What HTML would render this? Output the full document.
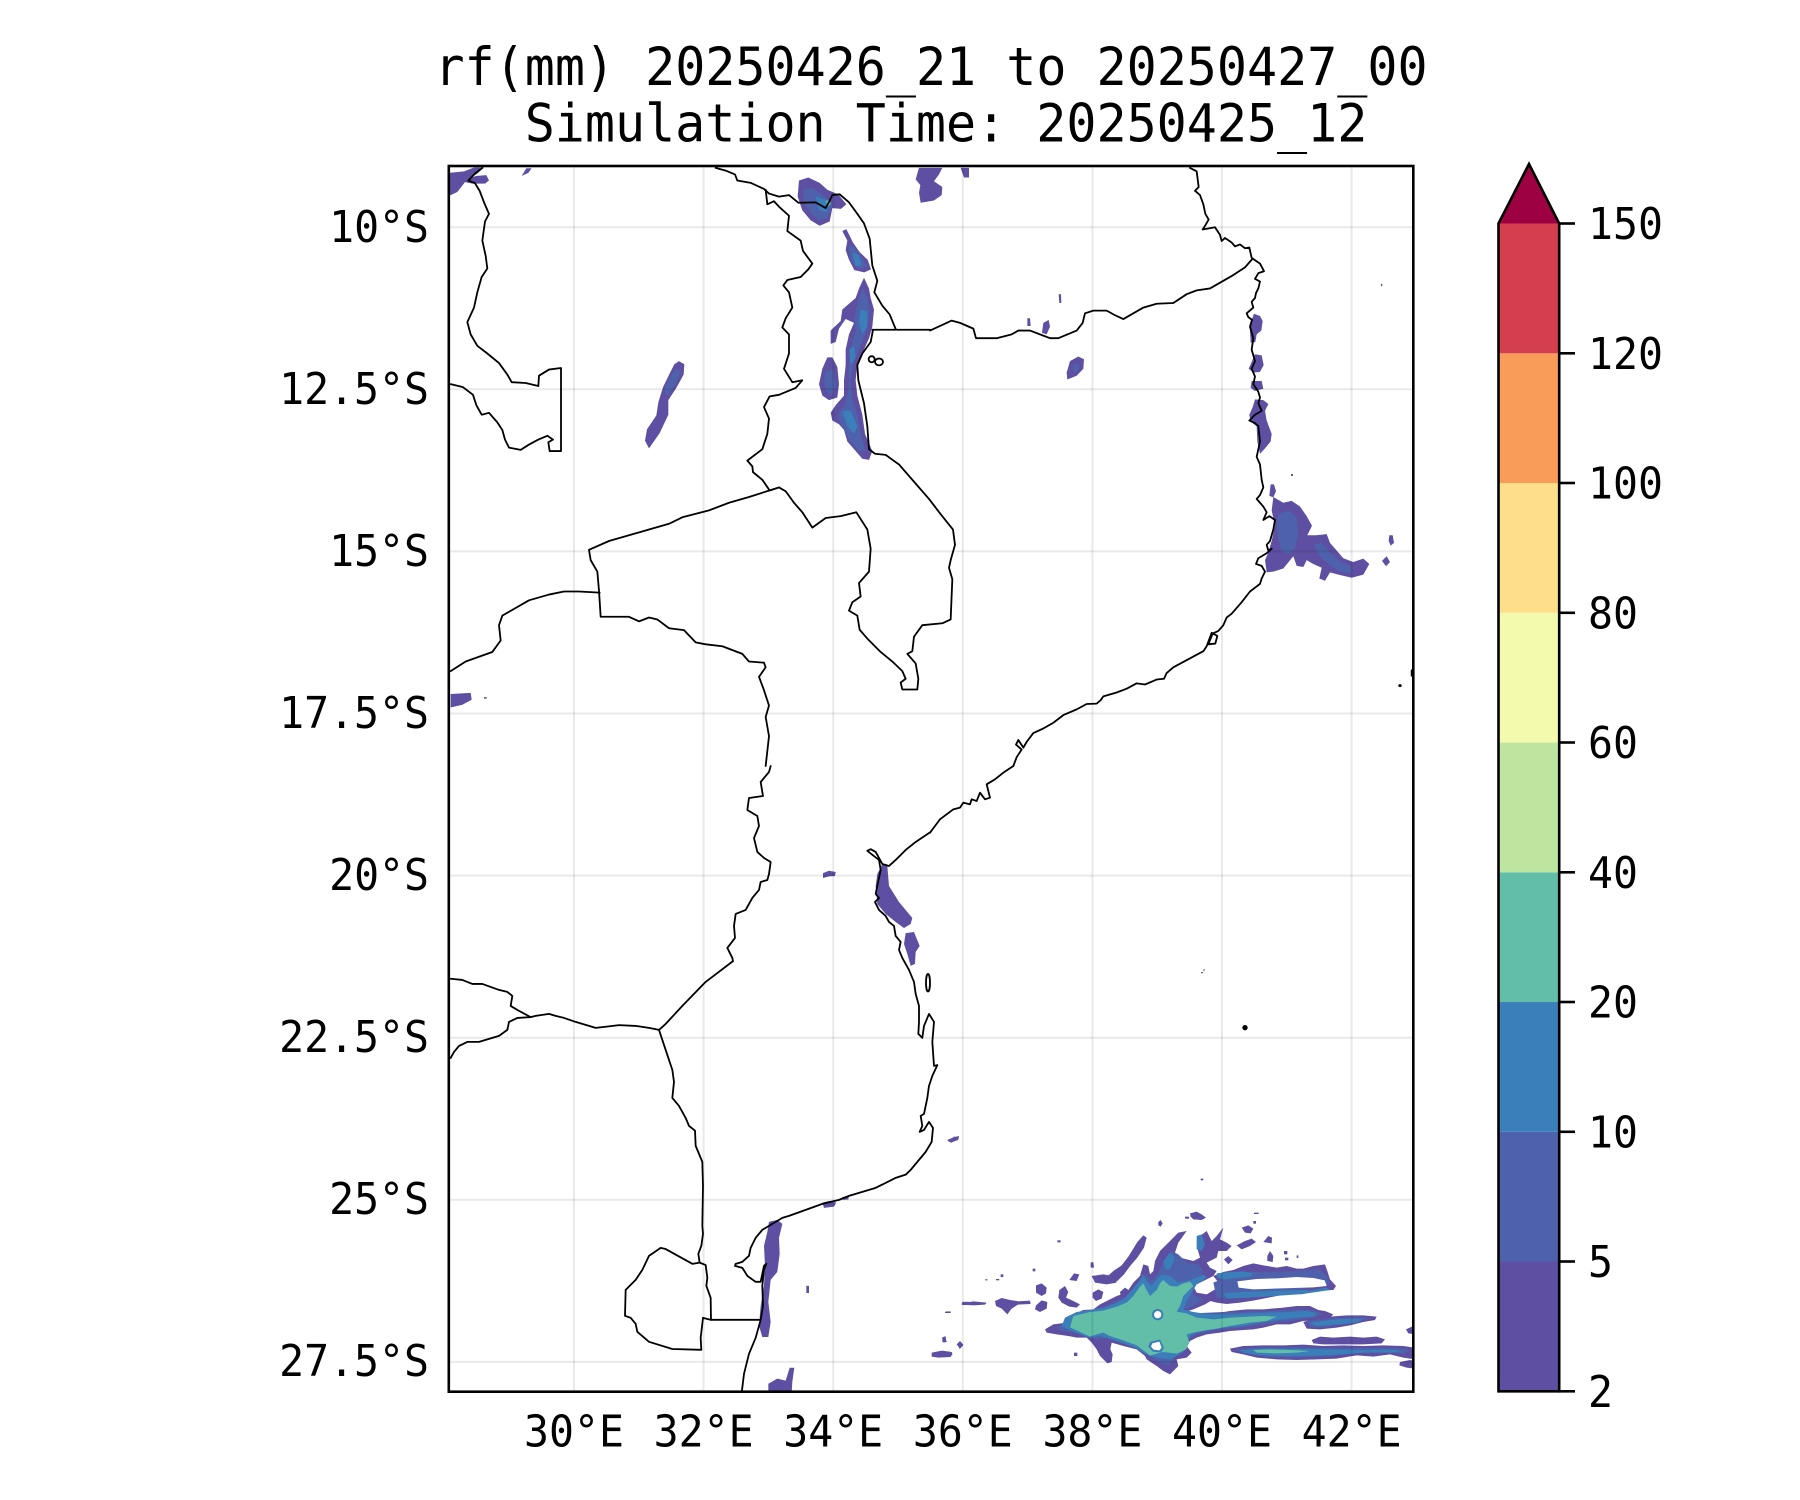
<!DOCTYPE html>
<html><head><meta charset="utf-8"><style>
html,body{margin:0;padding:0;background:#fff;}
svg{display:block;}
text{font-family:"DejaVu Sans Mono","Liberation Mono",monospace;fill:#000;}
.ln{fill:none;stroke:#000;stroke-width:1.8;stroke-linejoin:round;stroke-linecap:round;vector-effect:non-scaling-stroke;}
.c1{fill:#5e4fa2;}
.c2{fill:#4d62ab;}
.c3{fill:#3a7fb9;}
.c4{fill:#62bea7;}
.wh{fill:#fff;}
</style></head><body>
<svg width="1800" height="1500" viewBox="0 0 1800 1500" xmlns="http://www.w3.org/2000/svg">
<defs><clipPath id="mp"><rect x="448.8" y="166" width="964.5" height="1225.7"/></clipPath></defs>
<rect x="0" y="0" width="1800" height="1500" fill="#fff"/>

<g clip-path="url(#mp)">
<!-- ZOOM 5 region -->
<g transform="translate(449,166) scale(0.33333,0.38265)">
<path class="c1" d="M0,18 L45,14 L75,4 L105,4 L85,20 L62,32 L80,26 L112,24 L120,38 L108,46 L70,46 L48,42 L25,68 L5,76 L0,76 Z"/>
<path class="c1" d="M218,26 L232,6 L248,6 L238,18 Z"/>
<path class="c1" d="M690,510 L706,518 L704,545 L682,580 L658,612 L658,650 L632,698 L600,738 L588,718 L594,688 L622,652 L628,618 L642,578 L660,546 L676,518 Z"/>
<path class="c2" d="M680,530 L695,535 L680,570 L655,600 L645,585 L665,550 Z"/>
<path class="c1" d="M1050,38 L1078,30 L1112,44 L1135,62 L1168,74 L1192,100 L1176,112 L1150,110 L1142,145 L1112,156 L1085,142 L1060,116 L1046,80 Z"/>
<path class="c2" d="M1062,60 L1092,58 L1130,82 L1150,98 L1136,135 L1110,142 L1085,122 L1066,96 Z"/>
<path class="c3" d="M1100,80 L1130,88 L1145,100 L1130,120 L1110,115 Z"/>
<path class="c4" d="M1130,92 L1142,88 L1145,100 L1136,105 Z"/>
<path class="c1" d="M1180,170 L1192,165 L1212,200 L1232,225 L1256,245 L1266,270 L1246,278 L1216,272 L1200,245 L1190,220 L1195,195 Z"/>
<path class="c2" d="M1198,205 L1215,212 L1240,240 L1255,265 L1225,268 L1205,245 Z"/>
<path class="c3" d="M1210,225 L1228,232 L1238,258 L1220,262 Z"/>
<path class="c1" d="M1245,292 L1260,320 L1265,345 L1275,375 L1270,420 L1260,450 L1245,480 L1225,520 L1220,560 L1225,600 L1240,650 L1248,700 L1270,745 L1260,768 L1240,765 L1215,740 L1195,720 L1185,690 L1170,675 L1150,665 L1145,645 L1160,625 L1185,600 L1185,560 L1190,520 L1190,480 L1200,440 L1215,410 L1190,400 L1170,425 L1160,460 L1145,465 L1145,430 L1175,405 L1180,375 L1200,360 L1220,345 L1230,320 Z"/>
<path class="c2" d="M1240,320 L1255,340 L1262,380 L1255,420 L1240,460 L1215,510 L1205,560 L1210,610 L1225,650 L1235,700 L1250,745 L1230,745 L1200,715 L1175,672 L1165,650 L1190,620 L1200,570 L1200,520 L1205,475 L1220,430 L1215,400 L1225,360 Z"/>
<path class="c3" d="M1235,375 L1255,380 L1255,420 L1240,440 L1230,410 Z M1200,480 L1215,470 L1220,500 L1205,520 Z M1180,640 L1205,640 L1225,680 L1215,700 L1195,680 Z"/>
<path class="c1" d="M1135,500 L1150,500 L1165,525 L1170,570 L1165,605 L1140,612 L1120,600 L1110,570 L1120,530 Z"/>
<path class="c2" d="M1130,535 L1150,532 L1160,570 L1150,598 L1132,590 L1125,560 Z"/>
<path class="c1" d="M1410,5 L1480,5 L1470,22 L1455,40 L1480,55 L1478,76 L1455,90 L1415,96 L1410,70 L1414,50 L1400,35 Z"/>
<path class="c1" d="M1535,5 L1560,5 L1560,30 L1545,30 Z"/>
<path class="c1" d="M5,1380 L65,1377 L68,1395 L40,1408 L5,1415 Z"/>
<rect class="c1" x="105" y="1388" width="8" height="4"/>

<path class="ln" d="M100,5 L80,18 L58,38 L78,45 L92,65 L105,95 L120,125 L108,145 L100,195 L110,235 L115,268 L98,290 L85,330 L75,370 L55,408 L65,440 L85,470 L115,490 L150,515 L175,545 L188,565 L230,567 L268,575 L270,548 L300,532 L336,528 L336,745 L302,745 L298,722 L312,715 L295,705 L268,715 L240,728 L215,742 L180,736 L168,715 L160,690 L145,670 L120,645 L98,650 L82,625 L72,598 L42,578 L5,570"/>
<path class="ln" d="M800,5 L830,12 L858,22 L865,38 L905,44 L945,60 L960,72 L990,80 L1020,76 L1048,96 L1100,95 L1130,110 L1140,94 L1150,76 L1172,74 L1200,95 L1225,125 L1245,150 L1262,190 L1270,260 L1285,300 L1276,330 L1300,365 L1322,388 L1340,426 M1270,428 L1443,428"/>
<path class="ln" d="M950,62 L955,100 L975,92 L992,108 L1020,130 L1015,170 L1055,195 L1062,222 L1090,255 L1078,270 L1055,290 L1015,298 L1003,312 L1020,330 L1030,370 L1010,398 L1000,422 L1020,440 L1020,490 L1005,530 L1030,565 L1060,560 L1040,580 L990,598 L962,602 L945,630 L960,660 L955,700 L940,740 L895,770 L910,785 L912,800 L940,820 L962,848 L990,840"/>
<path class="ln" d="M1272,428 L1265,460 L1240,490 L1225,520 L1228,560 L1245,620 L1255,680 L1260,740 L1278,752 L1310,755 L1350,780 L1400,830 L1440,870 L1475,910 L1512,950 L1518,990 L1505,1030 L1500,1050 L1510,1080 L1505,1185 L1480,1195 L1420,1200 L1395,1230 L1390,1268 L1375,1275 L1400,1300 L1408,1340 L1405,1368 L1360,1368 L1355,1350 L1370,1340 L1360,1320 L1330,1295 L1295,1270 L1255,1235 L1232,1212 L1225,1175 L1200,1162 L1210,1140 L1235,1125 L1230,1090 L1260,1060 L1265,1000 L1255,950 L1222,905 L1175,915 L1130,920 L1090,945 L1060,905 L1035,880 L1010,850 L990,840"/>
<path class="ln" d="M990,840 L900,865 L840,880 L780,900 L700,918 L660,935 L600,950 L540,965 L480,980 L420,1003 L425,1030 L445,1060 L450,1110 L455,1178 L540,1178 L570,1190 L600,1180 L625,1185 L660,1208 L705,1213 L740,1245 L770,1250 L820,1255 L880,1275 L900,1295 L945,1298 L950,1310 L930,1335 L945,1370 L960,1410 L950,1440 L960,1490 L950,1568"/>
<path class="ln" d="M452,1115 L390,1112 L345,1112 L300,1120 L240,1135 L190,1160 L160,1175 L150,1200 L155,1240 L130,1270 L50,1295 L5,1320"/>
<ellipse class="ln" cx="1268" cy="505" rx="9" ry="8"/>
<ellipse class="ln" cx="1290" cy="512" rx="12" ry="9"/>
</g>

<!-- ZOOM 6 region -->
<g transform="translate(930,166) scale(0.33333,0.38265)">
<path class="c1" d="M386,335 L393,335 L394,358 L388,358 Z"/>
<path class="c1" d="M292,398 L300,398 L302,418 L292,418 Z"/>
<path class="c1" d="M340,410 L356,402 L360,420 L350,440 L336,436 Z"/>
<path class="c1" d="M420,510 L445,498 L462,505 L460,530 L440,548 L412,558 L410,540 Z"/>
<path class="c2" d="M430,520 L445,515 L448,530 L432,540 Z"/>
<path class="c1" d="M972,386 L990,392 L998,405 L994,430 L980,440 L976,460 L962,462 L960,430 L966,400 Z"/>
<path class="c1" d="M975,492 L995,495 L1001,520 L990,538 L970,540 L956,530 L965,512 Z"/>
<path class="c1" d="M965,562 L995,562 L1000,582 L975,588 L962,580 Z"/>
<path class="c1" d="M975,610 L1000,612 L1015,622 L1005,640 L1010,665 L1025,700 L1022,720 L1005,738 L990,752 L982,720 L980,680 L962,668 L958,650 L968,630 Z"/>
<path class="c1" d="M1022,832 L1032,832 L1038,850 L1030,866 L1018,862 Z"/>
<path class="c1" d="M1030,865 L1060,880 L1085,875 L1110,890 L1130,915 L1146,940 L1132,965 L1160,965 L1190,962 L1200,985 L1215,1000 L1240,1025 L1270,1035 L1300,1026 L1318,1040 L1300,1068 L1265,1076 L1225,1068 L1200,1062 L1185,1084 L1168,1078 L1175,1050 L1150,1040 L1130,1030 L1120,1048 L1100,1045 L1090,1020 L1060,1052 L1030,1060 L1010,1062 L1005,1030 L1015,1010 L1025,980 L1035,940 L1025,900 Z"/>
<path class="c2" d="M1045,910 L1075,900 L1100,920 L1105,960 L1095,1000 L1075,1015 L1055,1005 L1045,975 L1040,940 Z M1150,990 L1175,985 L1200,1010 L1230,1035 L1260,1045 L1265,1065 L1230,1060 L1195,1040 L1170,1020 Z"/>
<path class="c1" d="M1378,965 L1388,965 L1392,985 L1382,992 L1376,980 Z"/>
<path class="c1" d="M1356,1032 L1370,1020 L1380,1035 L1368,1046 Z"/>
<rect class="c1" x="1083" y="805" width="6" height="5"/>
<rect class="c1" x="1353" y="308" width="4" height="6"/>

<path class="ln" d="M780,5 L800,14 L806,55 L795,65 L810,76 L820,100 L826,125 L836,140 L826,155 L818,166 L855,160 L870,180 L875,196 L885,188 L905,200 L915,210 L930,205 L945,215 L958,213 L965,240 L990,255 L1002,275 L985,280 L975,295 L990,302 L985,320 L978,332 L975,345 L965,355 L970,370 L950,385 L955,395 L966,402 L960,420 L970,450 L965,480 L975,510 L965,530 L975,550 L970,570 L985,590 L990,605 L985,620 L995,640 L975,650 L958,665 L975,672 L985,680 L990,720 L985,740 L980,760 L990,780 L995,820 L1000,840 L990,860 L980,870 L990,880 L1000,890 L1010,905 L1000,925 L1018,915 L1035,925 L1030,950 L1020,980 L1010,990 L1015,1005 L1025,1000 L1010,1012 L985,1025 L978,1040 L995,1045 L1005,1060 L995,1078 L990,1092 L960,1112 L935,1140 L905,1170 L890,1180 L880,1200 L865,1215 L848,1222 L835,1250 L856,1248 L862,1228 L845,1220 L830,1255 L820,1268 L790,1282 L760,1296 L730,1310 L710,1325 L702,1340 L680,1342 L645,1355 L620,1352 L590,1366 L560,1376 L520,1386 L512,1396 L500,1405 L470,1406 L440,1420 L400,1435 L370,1455 L340,1470 L310,1482 L290,1505 L280,1520 L265,1500 L258,1512 L275,1525 L260,1545 L250,1568"/>
<path class="ln" d="M0,430 L40,414 L65,404 L90,410 L130,425 L138,450 L200,450 L245,440 L265,430 L300,430 L330,440 L360,450 L385,450 L440,430 L458,410 L465,385 L490,378 L530,378 L555,390 L580,400 L610,385 L640,370 L680,360 L730,358 L770,335 L800,325 L840,320 L870,305 L910,285 L945,265 L965,245"/>
<ellipse cx="1410" cy="1358" rx="5" ry="4" fill="#000"/>
<path class="ln" d="M1445,1318 L1445,1332"/>
</g>

<!-- ZOOM 7 region -->
<g transform="translate(449,766) scale(0.33333,0.39987)">
<path class="c1" d="M1122,268 L1140,262 L1160,265 L1158,275 L1140,276 L1122,280 Z"/>
<path class="c1" d="M1300,245 L1315,250 L1320,300 L1350,340 L1390,380 L1385,395 L1365,405 L1340,390 L1310,370 L1285,345 L1280,300 L1285,270 Z"/>
<path class="c1" d="M1370,418 L1395,415 L1412,450 L1400,465 L1398,495 L1385,500 L1375,470 L1365,445 Z"/>
<path class="c1" d="M960,1140 L985,1135 L1000,1145 L990,1180 L992,1220 L985,1265 L965,1285 L958,1340 L965,1390 L958,1428 L940,1428 L930,1400 L935,1350 L945,1300 L948,1250 L945,1200 L955,1165 Z"/>
<path class="c1" d="M958,1545 L985,1532 L1010,1537 L1022,1505 L1036,1505 L1030,1540 L1028,1568 L958,1568 Z"/>
<path class="c1" d="M1120,1092 L1140,1088 L1162,1092 L1155,1102 L1125,1105 Z"/>
<path class="c1" d="M1180,1078 L1200,1076 L1198,1084 L1182,1085 Z"/>
<path class="c1" d="M1495,935 L1510,930 L1530,925 L1528,935 L1505,942 Z"/>
<rect class="c1" x="1072" y="1300" width="8" height="18"/>
<rect class="c1" x="1480" y="1428" width="10" height="12"/>
<path class="c1" d="M1525,1445 L1535,1440 L1542,1450 L1532,1458 Z"/>
<path class="c1" d="M1450,1468 L1480,1462 L1510,1466 L1505,1478 L1455,1478 Z"/>
<rect class="c1" x="1540" y="1340" width="20" height="8"/>
<rect class="c1" x="1490" y="1364" width="15" height="4"/>

<path class="ln" d="M965,0 L960,15 L935,40 L942,75 L900,80 L895,110 L925,125 L930,150 L915,180 L925,215 L945,230 L965,240 L960,270 L955,285 L935,290 L930,310 L910,330 L890,360 L860,370 L855,400 L858,430 L835,455 L850,480 L852,488 L770,540 L700,600 L650,645 L630,660"/>
<path class="ln" d="M630,660 L600,655 L560,650 L510,648 L470,652 L440,655 L420,650 L400,645 L380,640 L345,630 L320,625 L300,620 L260,625 L245,628 L205,610 L185,600 L190,575 L175,565 L150,560 L100,545 L70,545 L40,535 L5,532"/>
<path class="ln" d="M245,628 L205,630 L180,640 L175,660 L150,675 L130,680 L90,690 L55,690 L30,700 L15,715 L5,730"/>
<path class="ln" d="M630,660 L650,710 L670,760 L675,790 L670,830 L690,850 L710,880 L720,900 L738,912 L740,950 L760,990 L762,1050 L760,1150 L762,1170 L757,1200 L748,1220 L752,1242 L770,1248 L775,1280 L772,1300 L785,1330 L786,1385 L930,1385"/>
<path class="ln" d="M752,1242 L730,1245 L650,1208 L635,1205 L600,1225 L580,1260 L560,1285 L530,1310 L528,1375 L545,1380 L560,1395 L565,1415 L600,1440 L670,1458 L757,1460 L755,1430 L762,1380 L786,1385"/>
<path class="ln" d="M1443,166 L1400,190 L1370,210 L1340,235 L1320,250 L1300,245 L1280,215 L1265,208 L1255,212 L1270,222 L1290,235 L1295,260 L1285,300 L1280,320 L1290,330 L1278,340 L1290,360 L1310,375 L1320,390 L1335,400 L1340,425 L1355,440 L1350,460 L1360,480 L1370,495 L1380,510 L1395,540 L1400,570 L1410,600 L1410,640 L1408,670 L1420,680 L1425,650 L1440,620 L1455,640 L1450,690 L1455,750 L1465,748 L1450,775 L1440,800 L1435,830 L1425,870 L1415,875 L1420,900 L1412,915 L1425,910 L1440,890 L1452,905 L1448,940 L1430,965 L1410,985 L1385,1010 L1370,1022 L1340,1030 L1280,1055 L1240,1065 L1200,1075 L1170,1085 L1120,1095 L1070,1110 L1020,1125 L1000,1130 L960,1150 L940,1160 L920,1180 L905,1205 L900,1225 L880,1240 L860,1245 L858,1250 L880,1255 L895,1275 L920,1290 L935,1290 L940,1270 L945,1250 L952,1245 L945,1260 L940,1300 L942,1350 L935,1385 L920,1430 L900,1470 L885,1520 L878,1568"/>
<ellipse class="ln" cx="1437" cy="542" rx="6" ry="22"/>
</g>

<!-- ZOOM 8 region -->
<g transform="translate(930,766) scale(0.33333)">
<path class="ln" d="M250,0 L220,20 L195,40 L170,55 L175,75 L180,95 L165,100 L150,80 L140,105 L125,100 L120,115 L100,110 L90,125 L70,130 L50,145 L30,160 L15,180 L0,200"/>
<circle cx="945" cy="785" r="8" fill="#000"/>
<circle cx="822" cy="612" r="2" fill="#000"/>
<circle cx="816" cy="620" r="2" fill="#000"/>
<path class="c1" d="M52,1125 L62,1120 L72,1112 L85,1113 L78,1120 L65,1130 Z"/>
<rect class="c1" x="812" y="1238" width="8" height="5"/>
</g>

<!-- ZOOM 9 region -->
<g transform="translate(930,1186) scale(0.33333)">
<path class="c1" d="M95,352 L130,346 L170,350 L165,356 L130,358 L95,356 Z"/>
<path class="c1" d="M195,345 L215,336 L240,342 L262,345 L265,355 L245,368 L232,385 L215,368 L198,360 Z"/>
<path class="c1" d="M260,346 L300,344 L302,354 L262,356 Z"/>
<path class="c1" d="M318,298 L335,292 L350,305 L348,322 L335,330 L318,320 Z"/>
<path class="c1" d="M318,358 L335,343 L352,348 L350,368 L330,378 L315,370 Z"/>
<path class="c1" d="M388,312 L405,300 L415,318 L408,335 L430,345 L450,355 L440,365 L418,362 L395,350 L385,335 Z"/>
<path class="c1" d="M418,282 L432,262 L448,265 L440,285 Z"/>
<path class="c1" d="M488,320 L505,310 L520,318 L515,338 L498,345 L488,335 Z"/>
<path class="c1" d="M482,230 L490,228 L492,245 L482,245 Z"/>
<path class="c1" d="M38,455 L46,450 L50,468 L40,470 Z"/>
<path class="c1" d="M80,475 L90,465 L100,476 L90,488 Z"/>
<path class="c1" d="M5,500 L30,495 L60,497 L68,505 L60,513 L25,515 L5,512 Z"/>
<rect class="c1" x="432" y="500" width="10" height="10"/>
<path class="c1" d="M520,495 L540,488 L548,505 L545,528 L532,532 L520,515 Z"/>
<rect class="c1" x="382" y="163" width="10" height="6"/>
<rect class="c1" x="212" y="265" width="8" height="8"/>
<rect class="c1" x="198" y="279" width="10" height="4"/>
<rect class="c1" x="308" y="248" width="8" height="8"/>
<rect class="c1" x="45" y="378" width="12" height="3"/>
<rect class="c1" x="165" y="280" width="8" height="3"/>
<path class="c1" d="M780,82 L800,77 L815,85 L828,95 L815,102 L790,100 L782,92 Z"/>
<rect class="c1" x="765" y="92" width="12" height="6"/>
<path class="c1" d="M685,108 L692,102 L698,112 L692,122 L685,118 Z"/>
<path class="c1" d="M935,125 L955,118 L970,128 L962,142 L945,140 Z"/>
<path class="c1" d="M920,178 L945,165 L965,158 L978,168 L960,180 L935,190 Z"/>
<path class="c1" d="M1000,168 L1015,150 L1026,155 L1025,172 Z"/>
<path class="c1" d="M1012,210 L1020,195 L1030,210 L1028,228 L1012,225 Z"/>
<path class="c1" d="M882,220 L895,210 L908,222 L895,235 Z"/>
<rect class="c1" x="972" y="80" width="14" height="4"/>
<rect class="c1" x="970" y="105" width="8" height="8"/>
<rect class="c1" x="1062" y="195" width="10" height="10"/>
<rect class="c1" x="1065" y="215" width="10" height="8"/>
<rect class="c1" x="1100" y="208" width="5" height="8"/>
<!-- main mass -->
<path class="c1" d="M345,430 L370,415 L410,410 L430,385 L460,372 L490,370 L510,355 L540,340 L560,330 L590,320 L610,290 L630,270 L640,235 L655,240 L660,265 L670,255 L675,225 L690,195 L720,165 L745,140 L770,135 L745,170 L735,200 L750,215 L790,225 L810,215 L800,180 L810,150 L830,135 L845,165 L860,150 L880,125 L870,160 L890,170 L905,180 L890,195 L865,195 L860,215 L830,230 L840,245 L860,255 L850,270 L820,285 L790,300 L800,320 L830,325 L850,340 L825,355 L790,370 L760,380 L780,390 L830,385 L870,380 L900,375 L950,370 L1000,370 L1060,365 L1100,360 L1140,360 L1165,372 L1185,375 L1210,385 L1200,395 L1180,400 L1120,405 L1080,415 L1040,415 L1000,425 L970,430 L940,432 L900,435 L870,440 L830,445 L800,455 L780,465 L770,480 L785,500 L770,515 L740,520 L745,540 L720,565 L700,555 L680,540 L650,520 L645,510 L620,490 L580,480 L545,470 L540,495 L545,520 L530,530 L510,510 L500,490 L485,470 L470,455 L440,455 L415,450 L380,445 L350,440 Z"/>
<path class="c1" d="M640,148 L650,155 L642,185 L622,215 L602,238 L582,265 L562,285 L540,292 L528,275 L550,255 L575,238 L595,212 L610,188 L622,168 Z"/>
<path class="c1" d="M485,270 L520,265 L550,270 L560,290 L530,295 L495,290 Z"/>
<path class="c1" d="M570,318 L585,305 L600,315 L590,330 L572,330 Z"/>
<path class="c1" d="M850,270 L880,258 L910,252 L940,240 L970,232 L1000,238 L1040,245 L1070,240 L1100,248 L1120,248 L1150,240 L1185,235 L1192,255 L1200,280 L1218,300 L1210,312 L1170,314 L1130,318 L1090,322 L1050,328 L1010,336 L970,344 L930,350 L890,354 L860,350 L840,345 L830,325 L855,310 L870,295 Z"/>
<path class="c1" d="M1120,408 L1150,398 L1200,392 L1250,388 L1300,388 L1340,392 L1335,402 L1300,408 L1260,418 L1220,425 L1170,430 L1130,428 Z"/>
<path class="c1" d="M1145,462 L1170,452 L1210,455 L1260,452 L1300,455 L1340,452 L1365,460 L1355,472 L1300,475 L1240,475 L1180,475 L1150,472 Z"/>
<path class="c1" d="M900,488 L940,480 L1000,478 L1060,478 L1120,476 L1180,480 L1240,478 L1300,480 L1360,478 L1420,480 L1455,485 L1455,520 L1420,515 L1380,505 L1330,512 L1280,508 L1220,518 L1160,520 L1100,522 L1040,520 L980,515 L940,505 L905,498 Z"/>
<path class="c1" d="M1410,528 L1440,522 L1455,525 L1455,548 L1430,545 L1408,538 Z"/>
<path class="c1" d="M1428,430 L1450,420 L1455,420 L1455,445 L1435,442 Z"/>
<!-- 5-10 -->
<path class="c2" d="M380,425 L420,405 L450,385 L490,378 L530,362 L560,345 L595,330 L615,300 L635,278 L650,262 L665,285 L685,260 L700,230 L725,195 L745,205 L770,230 L805,235 L820,255 L800,285 L780,310 L795,330 L820,340 L790,360 L760,372 L790,382 L880,378 L1000,376 L1100,370 L1150,372 L1180,385 L1150,395 L1080,405 L1000,415 L930,425 L860,432 L800,445 L770,462 L762,490 L740,508 L715,540 L690,530 L655,508 L620,482 L580,470 L540,455 L500,460 L470,448 L430,440 L395,435 Z"/>
<path class="c2" d="M850,290 L900,270 L960,258 L1020,258 L1090,255 L1170,250 L1190,270 L1200,295 L1150,305 L1090,312 L1020,320 L960,332 L900,340 L860,335 Z"/>
<path class="wh" d="M922,286 L980,279 L1040,277 L1100,273 L1150,276 L1184,283 L1190,300 L1150,304 L1090,306 L1030,308 L970,310 L926,305 Z"/>
<path class="c2" d="M915,490 L1000,484 L1100,484 L1200,486 L1300,486 L1400,486 L1440,492 L1420,505 L1360,498 L1280,502 L1200,510 L1100,515 L1000,512 L940,502 Z"/>
<path class="c2" d="M1130,405 L1200,397 L1300,394 L1320,398 L1260,412 L1180,424 L1140,424 Z"/>
<!-- 10-20 -->
<path class="c3" d="M405,395 L440,378 L480,372 L520,365 L555,352 L580,340 L600,318 L625,290 L640,265 L650,285 L665,300 L680,280 L695,265 L720,270 L745,290 L770,285 L800,275 L820,265 L830,275 L800,295 L785,320 L770,345 L760,370 L790,378 L840,385 L900,385 L960,382 L1020,380 L1080,378 L1130,375 L1160,382 L1150,392 L1100,395 L1040,402 L990,410 L940,420 L880,425 L840,432 L800,440 L780,450 L775,470 L760,498 L740,510 L720,520 L690,515 L660,510 L640,500 L615,485 L580,472 L545,460 L510,450 L480,455 L450,445 L420,432 L395,420 Z"/>
<path class="c3" d="M860,262 L900,258 L940,256 L970,262 L960,272 L920,276 L880,280 L862,275 Z"/>
<path class="c3" d="M880,322 L940,318 L1000,316 L1060,314 L1120,312 L1150,315 L1120,324 L1060,328 L1000,332 L940,336 L890,336 Z"/>
<path class="c3" d="M1100,320 L1150,312 L1190,305 L1200,312 L1160,318 L1110,325 Z"/>
<path class="c3" d="M1140,410 L1200,402 L1260,398 L1300,400 L1280,410 L1220,416 L1160,420 Z"/>
<path class="c3" d="M930,492 L1000,488 L1100,488 L1200,490 L1300,492 L1380,490 L1420,495 L1380,500 L1300,500 L1200,508 L1100,510 L1000,508 L940,500 Z"/>
<path class="c3" d="M800,150 L815,145 L825,175 L815,195 L800,190 Z"/>
<path class="c3" d="M700,225 L720,200 L735,215 L720,250 L705,250 Z"/>
<!-- 20-40 -->
<path class="c4" d="M430,390 L480,378 L520,374 L560,362 L590,350 L610,330 L630,302 L640,292 L650,312 L660,330 L680,312 L690,292 L700,282 L720,300 L740,302 L760,292 L780,287 L790,300 L760,330 L750,360 L740,377 L770,382 L800,395 L850,400 L900,395 L960,392 L1000,390 L1040,392 L1010,405 L960,410 L900,420 L860,428 L820,434 L790,440 L770,445 L778,470 L768,490 L740,503 L700,498 L660,508 L640,493 L620,478 L580,463 L540,450 L520,440 L500,445 L480,452 L460,443 L440,433 L420,424 Z"/>
<path class="c4" d="M970,492 L1020,490 L1080,492 L1140,495 L1100,500 L1040,502 L980,500 Z"/>
<circle class="c3" cx="683" cy="386" r="17"/>
<circle class="wh" cx="683" cy="386" r="11"/>
<path class="c3" d="M660,468 L690,460 L702,485 L693,500 L668,497 L655,482 Z"/>
<path class="wh" d="M667,472 L688,467 L695,485 L688,493 L671,491 L663,482 Z"/>
</g>
</g>

<!-- gridlines -->
<g stroke="rgba(0,0,0,0.085)" stroke-width="2" clip-path="url(#mp)">
<line x1="574" y1="166" x2="574" y2="1392"/>
<line x1="703.6" y1="166" x2="703.6" y2="1392"/>
<line x1="833.2" y1="166" x2="833.2" y2="1392"/>
<line x1="962.8" y1="166" x2="962.8" y2="1392"/>
<line x1="1092.4" y1="166" x2="1092.4" y2="1392"/>
<line x1="1222" y1="166" x2="1222" y2="1392"/>
<line x1="1351.6" y1="166" x2="1351.6" y2="1392"/>
<line x1="449" y1="227.2" x2="1413" y2="227.2"/>
<line x1="449" y1="389.3" x2="1413" y2="389.3"/>
<line x1="449" y1="551.4" x2="1413" y2="551.4"/>
<line x1="449" y1="713.5" x2="1413" y2="713.5"/>
<line x1="449" y1="875.6" x2="1413" y2="875.6"/>
<line x1="449" y1="1037.7" x2="1413" y2="1037.7"/>
<line x1="449" y1="1199.8" x2="1413" y2="1199.8"/>
<line x1="449" y1="1361.9" x2="1413" y2="1361.9"/>
</g>

<!-- frame -->
<rect x="448.8" y="166" width="964.5" height="1225.7" fill="none" stroke="#000" stroke-width="2.6"/>

<!-- title -->
<text transform="translate(931,85) scale(1,1.05)" text-anchor="middle" font-size="50">rf(mm) 20250426_21 to 20250427_00</text>
<text transform="translate(946,141.7) scale(1,1.05)" text-anchor="middle" font-size="50">Simulation Time: 20250425_12</text>

<!-- lat labels -->
<g font-size="41.5" text-anchor="end">
<text transform="translate(429,242) scale(1,1.06)">10°S</text>
<text transform="translate(429,404) scale(1,1.06)">12.5°S</text>
<text transform="translate(429,566) scale(1,1.06)">15°S</text>
<text transform="translate(429,728) scale(1,1.06)">17.5°S</text>
<text transform="translate(429,890) scale(1,1.06)">20°S</text>
<text transform="translate(429,1052) scale(1,1.06)">22.5°S</text>
<text transform="translate(429,1214) scale(1,1.06)">25°S</text>
<text transform="translate(429,1376) scale(1,1.06)">27.5°S</text>
</g>
<!-- lon labels -->
<g font-size="41.5" text-anchor="middle">
<text transform="translate(574,1446.5) scale(1,1.06)">30°E</text>
<text transform="translate(703.6,1446.5) scale(1,1.06)">32°E</text>
<text transform="translate(833.2,1446.5) scale(1,1.06)">34°E</text>
<text transform="translate(962.8,1446.5) scale(1,1.06)">36°E</text>
<text transform="translate(1092.4,1446.5) scale(1,1.06)">38°E</text>
<text transform="translate(1222,1446.5) scale(1,1.06)">40°E</text>
<text transform="translate(1351.6,1446.5) scale(1,1.06)">42°E</text>
</g>

<!-- colorbar -->
<g>
<rect x="1498.5" y="1261.5" width="60.7" height="129.8" fill="#5e4fa2"/>
<rect x="1498.5" y="1131.8" width="60.7" height="129.8" fill="#4d62ab"/>
<rect x="1498.5" y="1002" width="60.7" height="129.8" fill="#3a7fb9"/>
<rect x="1498.5" y="872.3" width="60.7" height="129.8" fill="#62bea7"/>
<rect x="1498.5" y="742.5" width="60.7" height="129.8" fill="#bee5a0"/>
<rect x="1498.5" y="612.8" width="60.7" height="129.8" fill="#f3faad"/>
<rect x="1498.5" y="483" width="60.7" height="129.8" fill="#fddf8b"/>
<rect x="1498.5" y="353.3" width="60.7" height="129.8" fill="#f99c59"/>
<rect x="1498.5" y="223.5" width="60.7" height="129.8" fill="#d53e4f"/>
<path d="M1498.5,223.5 L1529,164 L1559.2,223.5 Z" fill="#9e0142"/>
<path d="M1498.5,223.5 L1529,164 L1559.2,223.5 L1559.2,1391.3 L1498.5,1391.3 Z" fill="none" stroke="#000" stroke-width="2.6" stroke-linejoin="miter"/>
<g stroke="#000" stroke-width="2.6">
<line x1="1559" y1="1391.3" x2="1575" y2="1391.3"/>
<line x1="1559" y1="1261.5" x2="1575" y2="1261.5"/>
<line x1="1559" y1="1131.8" x2="1575" y2="1131.8"/>
<line x1="1559" y1="1002" x2="1575" y2="1002"/>
<line x1="1559" y1="872.3" x2="1575" y2="872.3"/>
<line x1="1559" y1="742.5" x2="1575" y2="742.5"/>
<line x1="1559" y1="612.8" x2="1575" y2="612.8"/>
<line x1="1559" y1="483" x2="1575" y2="483"/>
<line x1="1559" y1="353.3" x2="1575" y2="353.3"/>
<line x1="1559" y1="223.5" x2="1575" y2="223.5"/>
</g>
<g font-size="41.5">
<text transform="translate(1588,1406.8) scale(1,1.06)">2</text>
<text transform="translate(1588,1277) scale(1,1.06)">5</text>
<text transform="translate(1588,1147.3) scale(1,1.06)">10</text>
<text transform="translate(1588,1017.5) scale(1,1.06)">20</text>
<text transform="translate(1588,887.8) scale(1,1.06)">40</text>
<text transform="translate(1588,758) scale(1,1.06)">60</text>
<text transform="translate(1588,628.3) scale(1,1.06)">80</text>
<text transform="translate(1588,498.5) scale(1,1.06)">100</text>
<text transform="translate(1588,368.8) scale(1,1.06)">120</text>
<text transform="translate(1588,239) scale(1,1.06)">150</text>
</g>
</g>
</svg>
</body></html>
